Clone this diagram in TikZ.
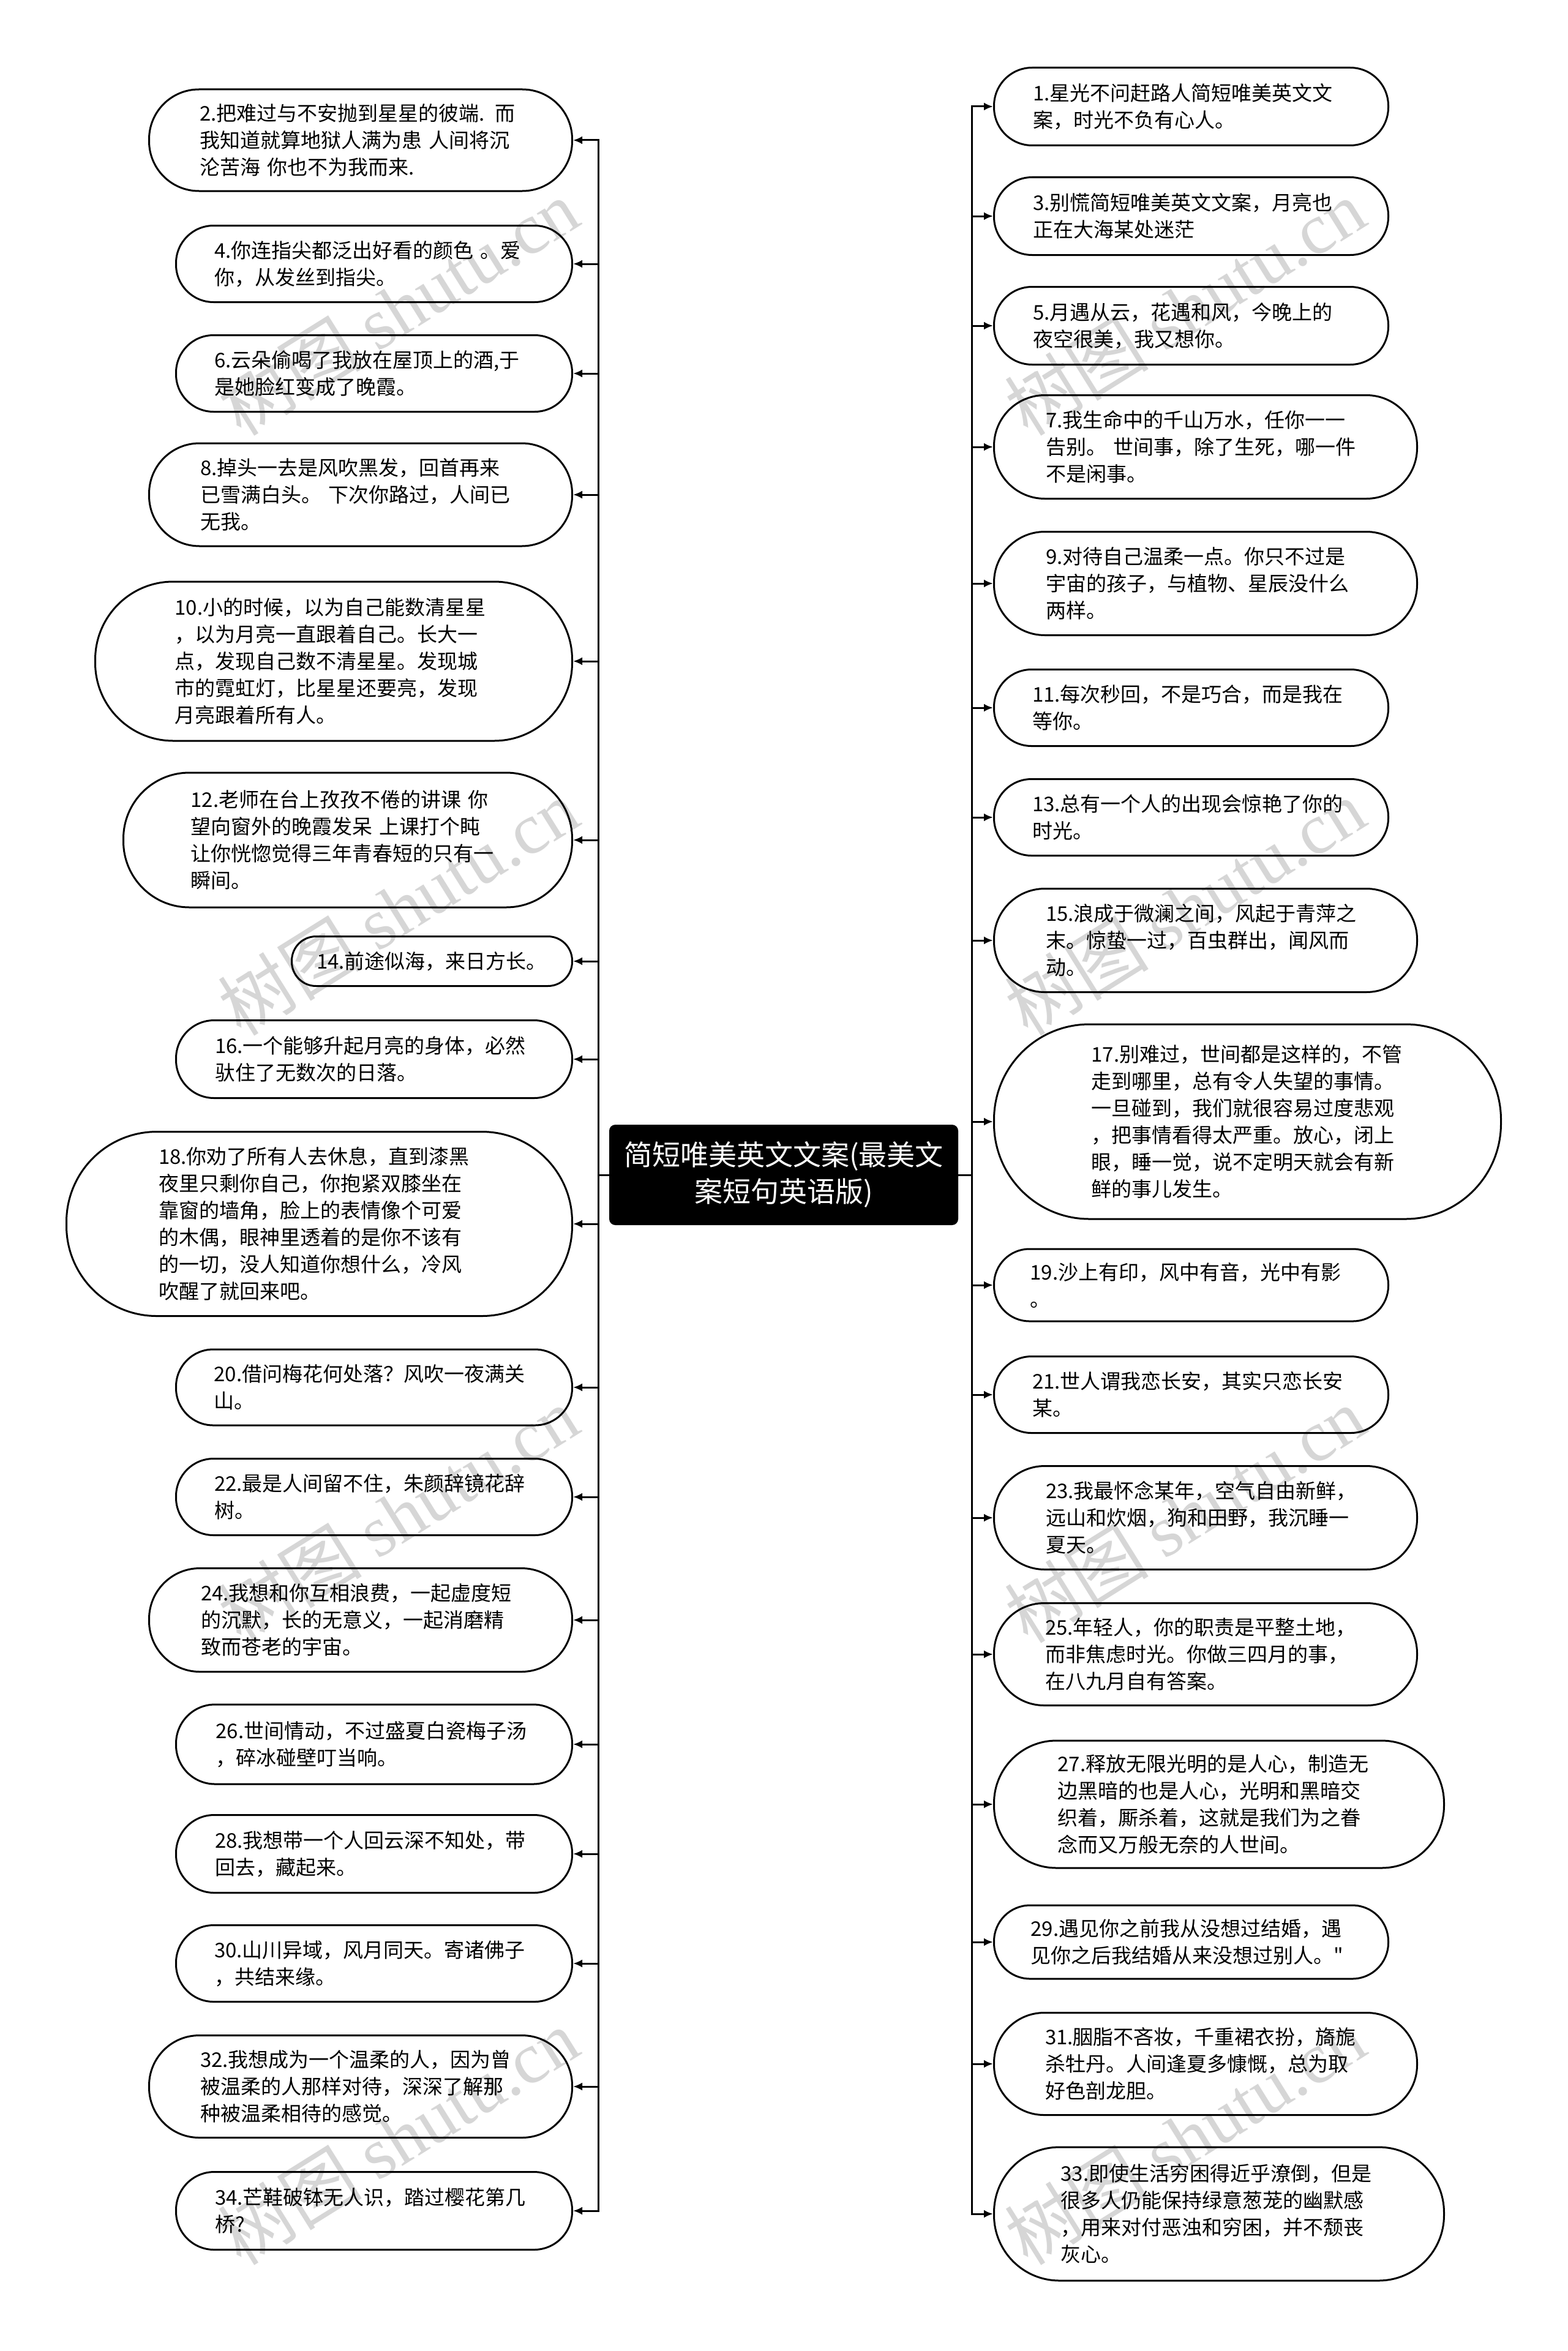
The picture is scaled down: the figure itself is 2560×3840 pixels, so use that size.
\documentclass[tikz,border=0pt]{standalone}
\usepackage{fontspec}
\setmainfont{Noto Sans CJK SC}
\newfontfamily\cjk{Noto Sans CJK SC}
\newfontfamily\wmlatin{Liberation Serif}
\usetikzlibrary{arrows.meta}
\newcommand{\sq}{{\XeTeXglyph\XeTeXcharglyph"22\relax}}
\tikzset{
  leaf/.style={rectangle, draw=black, line width=3pt, inner xsep=0pt, inner ysep=0pt,
    align=left, font=\fontsize{33}{44}\selectfont},
  lnode/.style n args={3}{leaf, anchor=east, minimum width=#1, minimum height=#2,
    text width=#3, rounded corners=0.49*#2},
  rnode/.style n args={3}{leaf, anchor=west, minimum width=#1, minimum height=#2,
    text width=#3, rounded corners=0.49*#2},
  conn/.style={line width=3pt, -{Latex[length=15pt,width=13pt]}},
  root/.style={fill=black, rounded corners=10pt, text=white, align=center,
    font=\fontsize{46}{60}\selectfont, minimum width=570pt, minimum height=164pt, inner sep=0pt},
  wm/.style={text=black!16, rotate=32, font=\fontsize{118}{118}\selectfont}
}
\begin{document}
\begin{tikzpicture}[x=1pt,y=-1pt]
\useasboundingbox (0,0) rectangle (2560,3840);
% watermarks
\foreach \wx in {650,1935} {
  \foreach \wy in {502,1482,2474,3490} {
    \node[wm] at (\wx,\wy) {\cjk 树图 \wmlatin shutu.cn};
  }
}
% root
\node[root] (c) at (1280,1919) {简短唯美英文文案(最美文\\案短句英语版)};
\coordinate (lt) at (977,1919);
\coordinate (rt) at (1587,1919);
% left nodes
\node[lnode={691pt}{166pt}{525pt}] (n2) at (936,229) {2.把难过与不安抛到星星的彼端. 而\\我知道就算地狱人满为患 人间将沉\\沦苦海 你也不为我而来.};
\node[lnode={647pt}{125pt}{522pt}] (n4) at (936,431) {4.你连指尖都泛出好看的颜色 。爱\\你，从发丝到指尖。};
\node[lnode={647pt}{125pt}{522pt}] (n6) at (936,610) {6.云朵偷喝了我放在屋顶上的酒,于\\是她脸红变成了晚霞。};
\node[lnode={691pt}{168pt}{523pt}] (n8) at (936,808) {8.掉头一去是风吹黑发，回首再来\\已雪满白头。 下次你路过，人间已\\无我。};
\node[lnode={779pt}{260pt}{519pt}] (n10) at (936,1080) {10.小的时候，以为自己能数清星星\\，以为月亮一直跟着自己。长大一\\点，发现自己数不清星星。发现城\\市的霓虹灯，比星星还要亮，发现\\月亮跟着所有人。};
\node[lnode={733pt}{220pt}{513pt}] (n12) at (936,1372) {12.老师在台上孜孜不倦的讲课 你\\望向窗外的晚霞发呆 上课打个盹\\让你恍惚觉得三年青春短的只有一\\瞬间。};
\node[lnode={458pt}{81pt}{377pt}] (n14) at (936,1570) {14.前途似海，来日方长。};
\node[lnode={647pt}{127pt}{520pt}] (n16) at (936,1730) {16.一个能够升起月亮的身体，必然\\驮住了无数次的日落。};
\node[lnode={826pt}{301pt}{525pt}] (n18) at (936,1999) {18.你劝了所有人去休息，直到漆黑\\夜里只剩你自己，你抱紧双膝坐在\\靠窗的墙角，脸上的表情像个可爱\\的木偶，眼神里透着的是你不该有\\的一切，没人知道你想什么，冷风\\吹醒了就回来吧。};
\node[lnode={647pt}{124pt}{523pt}] (n20) at (936,2266) {20.借问梅花何处落？风吹一夜满关\\山。};
\node[lnode={647pt}{125pt}{522pt}] (n22) at (936,2445) {22.最是人间留不住，朱颜辞镜花辞\\树。};
\node[lnode={691pt}{169pt}{522pt}] (n24) at (936,2646) {24.我想和你互相浪费，一起虚度短\\的沉默，长的无意义，一起消磨精\\致而苍老的宇宙。};
\node[lnode={647pt}{130pt}{517pt}] (n26) at (936,2849) {26.世间情动，不过盛夏白瓷梅子汤\\，碎冰碰壁叮当响。};
\node[lnode={647pt}{127pt}{520pt}] (n28) at (936,3028) {28.我想带一个人回云深不知处，带\\回去，藏起来。};
\node[lnode={647pt}{125pt}{522pt}] (n30) at (936,3207) {30.山川异域，风月同天。寄诸佛子\\，共结来缘。};
\node[lnode={691pt}{167pt}{524pt}] (n32) at (936,3408) {32.我想成为一个温柔的人，因为曾\\被温柔的人那样对待，深深了解那\\种被温柔相待的感觉。};
\node[lnode={647pt}{127pt}{520pt}] (n34) at (936,3611) {34.芒鞋破钵无人识，踏过樱花第几\\桥?};
% right nodes
\node[rnode={644pt}{127pt}{517pt}] (n1) at (1622,174) {1.星光不问赶路人简短唯美英文文\\案，时光不负有心人。};
\node[rnode={644pt}{127pt}{517pt}] (n3) at (1622,353) {3.别慌简短唯美英文文案，月亮也\\正在大海某处迷茫};
\node[rnode={644pt}{127pt}{517pt}] (n5) at (1622,532) {5.月遇从云，花遇和风，今晚上的\\夜空很美，我又想你。};
\node[rnode={691pt}{169pt}{522pt}] (n7) at (1622,730) {7.我生命中的千山万水，任你一一\\告别。 世间事，除了生死，哪一件\\不是闲事。};
\node[rnode={691pt}{169pt}{522pt}] (n9) at (1622,953) {9.对待自己温柔一点。你只不过是\\宇宙的孩子，与植物、星辰没什么\\两样。};
\node[rnode={644pt}{125pt}{519pt}] (n11) at (1622,1156) {11.每次秒回，不是巧合，而是我在\\等你。};
\node[rnode={644pt}{125pt}{519pt}] (n13) at (1622,1335) {13.总有一个人的出现会惊艳了你的\\时光。};
\node[rnode={691pt}{169pt}{522pt}] (n15) at (1622,1536) {15.浪成于微澜之间，风起于青萍之\\末。惊蛰一过，百虫群出，闻风而\\动。};
\node[rnode={828pt}{318pt}{510pt}] (n17) at (1622,1832) {17.别难过，世间都是这样的，不管\\走到哪里，总有令人失望的事情。\\一旦碰到，我们就很容易过度悲观\\，把事情看得太严重。放心，闭上\\眼，睡一觉，说不定明天就会有新\\鲜的事儿发生。};
\node[rnode={644pt}{118pt}{526pt}] (n19) at (1622,2099) {19.沙上有印，风中有音，光中有影\\。};
\node[rnode={644pt}{125pt}{519pt}] (n21) at (1622,2278) {21.世人谓我恋长安，其实只恋长安\\某。};
\node[rnode={691pt}{169pt}{522pt}] (n23) at (1622,2479) {23.我最怀念某年，空气自由新鲜，\\远山和炊烟，狗和田野，我沉睡一\\夏天。};
\node[rnode={691pt}{167pt}{524pt}] (n25) at (1622,2702) {25.年轻人，你的职责是平整土地，\\而非焦虑时光。你做三四月的事，\\在八九月自有答案。};
\node[rnode={735pt}{208pt}{527pt}] (n27) at (1622,2947) {27.释放无限光明的是人心，制造无\\边黑暗的也是人心，光明和黑暗交\\织着，厮杀着，这就是我们为之眷\\念而又万般无奈的人世间。};
\node[rnode={644pt}{120pt}{524pt}] (n29) at (1622,3172) {29.遇见你之前我从没想过结婚，遇\\见你之后我结婚从来没想过别人。\sq};
\node[rnode={691pt}{167pt}{524pt}] (n31) at (1622,3371) {31.胭脂不吝妆，千重裙衣扮，旖旎\\杀牡丹。人间逢夏多慷慨，总为取\\好色剖龙胆。};
\node[rnode={735pt}{218pt}{517pt}] (n33) at (1622,3616) {33.即使生活穷困得近乎潦倒，但是\\很多人仍能保持绿意葱茏的幽默感\\，用来对付恶浊和穷困，并不颓丧\\灰心。};
% connectors
\foreach \n in {2,4,...,34} {
  \draw[conn] (c.west) -- (lt) |- (n\n.east);
}
\foreach \n in {1,3,...,33} {
  \draw[conn] (c.east) -- (rt) |- (n\n.west);
}
\end{tikzpicture}
\end{document}
